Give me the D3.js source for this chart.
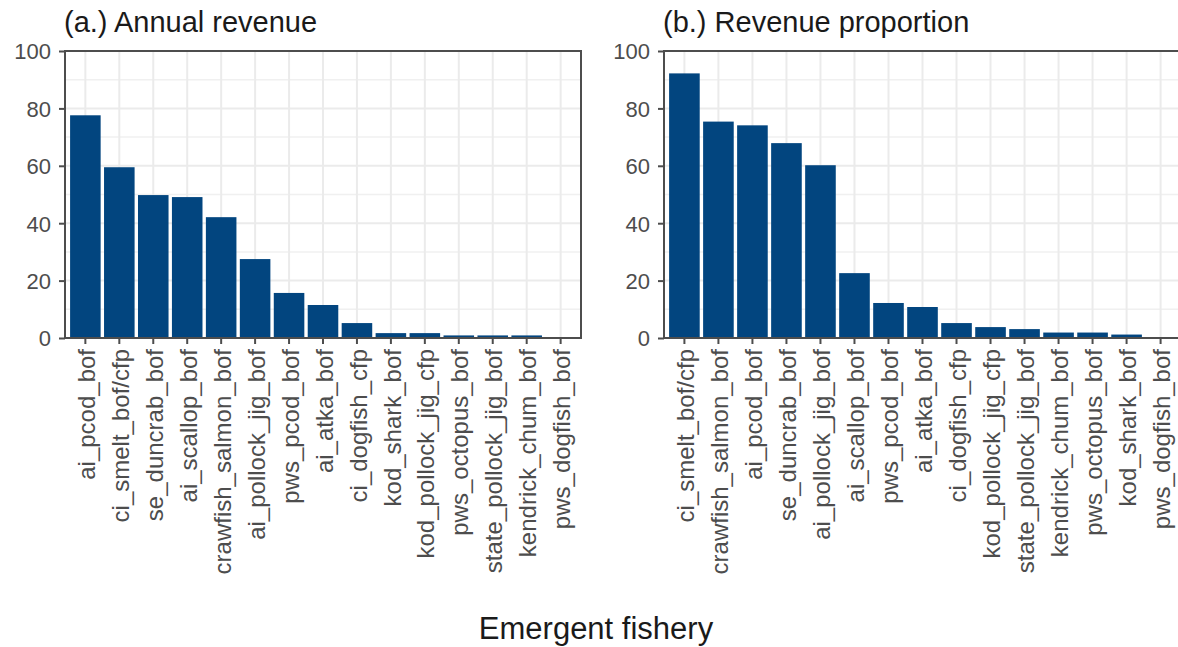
<!DOCTYPE html>
<html>
<head>
<meta charset="utf-8">
<script src="https://cdn.jsdelivr.net/npm/d3@7"></script>
<style>
  html, body { margin: 0; padding: 0; background: #ffffff; }
  svg { display: block; font-family: "Liberation Sans", Arial, sans-serif; }
</style>
</head>
<body>
<svg id="chart" width="1178" height="647"></svg>
<script>
// Panel (a.): annual revenue by emergent fishery
const revenueCategories = [
  "ai_pcod_bof", "ci_smelt_bof/cfp", "se_duncrab_bof", "ai_scallop_bof",
  "crawfish_salmon_bof", "ai_pollock_jig_bof", "pws_pcod_bof", "ai_atka_bof",
  "ci_dogfish_cfp", "kod_shark_bof", "kod_pollock_jig_cfp", "pws_octopus_bof",
  "state_pollock_jig_bof", "kendrick_chum_bof", "pws_dogfish_bof"
];
const revenueValues = [77.6, 59.5, 49.8, 49.1, 42.1, 27.5, 15.7, 11.5, 5.2, 1.7, 1.7, 0.9, 0.9, 0.9, 0.1];

// Panel (b.): revenue proportion by emergent fishery
const proportionCategories = [
  "ci_smelt_bof/cfp", "crawfish_salmon_bof", "ai_pcod_bof", "se_duncrab_bof",
  "ai_pollock_jig_bof", "ai_scallop_bof", "pws_pcod_bof", "ai_atka_bof",
  "ci_dogfish_cfp", "kod_pollock_jig_cfp", "state_pollock_jig_bof", "kendrick_chum_bof",
  "pws_octopus_bof", "kod_shark_bof", "pws_dogfish_bof"
];
const proportionValues = [92.2, 75.4, 74.1, 67.9, 60.2, 22.6, 12.2, 10.8, 5.2, 3.8, 3.1, 1.9, 1.9, 1.2, 0.1];

const yTicks = [0, 20, 40, 60, 80, 100];
const yMinorTicks = [10, 30, 50, 70, 90];

const panelTitles = ["(a.) Annual revenue", "(b.) Revenue proportion"];
const xAxisTitle = "Emergent fishery";

const svg = d3.select("#chart");
const barColor = "#02457f";
const panelTop = 51, panelBottom = 338;

function drawPanel(left, right, cats, vals, title) {
  const g = svg.append("g");
  const x = d3.scaleBand().domain(cats).range([left, right])
    .paddingInner(0.1).paddingOuter(0.15);
  const y = d3.scaleLinear().domain([0, 100]).range([panelBottom, panelTop]);
  const cx = d => x(d) + x.bandwidth() / 2;

  // grid
  g.selectAll(".minor").data(yMinorTicks).join("line")
    .attr("x1", left).attr("x2", right)
    .attr("y1", d => y(d)).attr("y2", d => y(d))
    .attr("stroke", "#f0f0f0").attr("stroke-width", 1.5);
  g.selectAll(".hmajor").data(yTicks).join("line")
    .attr("x1", left).attr("x2", right)
    .attr("y1", d => y(d)).attr("y2", d => y(d))
    .attr("stroke", "#ebebeb").attr("stroke-width", 2);
  g.selectAll(".vmajor").data(cats).join("line")
    .attr("x1", d => cx(d)).attr("x2", d => cx(d))
    .attr("y1", panelTop).attr("y2", panelBottom)
    .attr("stroke", "#ebebeb").attr("stroke-width", 2);

  // bars
  g.selectAll(".bar").data(cats).join("rect")
    .attr("x", d => x(d))
    .attr("width", x.bandwidth())
    .attr("y", (d, i) => y(vals[i]))
    .attr("height", (d, i) => y(0) - y(vals[i]))
    .attr("fill", barColor);

  // border
  g.append("rect")
    .attr("x", left).attr("y", panelTop)
    .attr("width", right - left).attr("height", panelBottom - panelTop)
    .attr("fill", "none").attr("stroke", "#4d4d4d").attr("stroke-width", 2);

  // y axis
  const ya = g.append("g").attr("transform", `translate(${left},0)`)
    .call(d3.axisLeft(y).tickValues(yTicks).tickSize(6).tickPadding(8));
  ya.select(".domain").remove();
  ya.selectAll("line").attr("stroke", "#4d4d4d").attr("stroke-width", 2);
  ya.selectAll("text").attr("fill", "#4d4d4d").style("font-size", "22px")
    .attr("dy", "0.36em");

  // x axis
  const xa = g.append("g").attr("transform", `translate(0,${panelBottom})`)
    .call(d3.axisBottom(x).tickSize(6).tickPadding(6));
  xa.select(".domain").remove();
  xa.selectAll("line").attr("stroke", "#4d4d4d").attr("stroke-width", 2);
  xa.selectAll("text")
    .attr("fill", "#4d4d4d").style("font-size", "24px")
    .attr("text-anchor", "end")
    .attr("transform", "rotate(-90)")
    .attr("x", -11).attr("y", 1).attr("dy", "0.36em");

  // title
  g.append("text").attr("x", left - 1).attr("y", 32)
    .attr("fill", "#1a1a1a").style("font-size", "29px").text(title);
}

drawPanel(65, 581, revenueCategories, revenueValues, panelTitles[0]);
drawPanel(664, 1181, proportionCategories, proportionValues, panelTitles[1]);

svg.append("text").attr("x", 596).attr("y", 639)
  .attr("text-anchor", "middle").attr("fill", "#1a1a1a")
  .style("font-size", "31px").text(xAxisTitle);
</script>
</body>
</html>
